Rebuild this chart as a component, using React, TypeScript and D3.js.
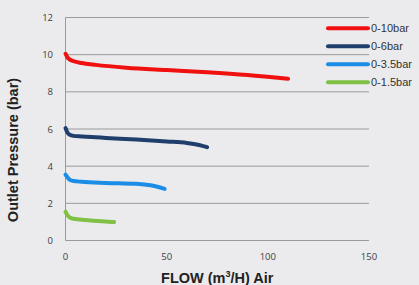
import React, { useEffect, useRef } from "react";
import * as d3 from "d3";

// flow (m3/H) vs outlet pressure (bar)
const seriesNames = ["0-10bar", "0-6bar", "0-3.5bar", "0-1.5bar"];
const seriesColors = ["#f01010", "#1f3e6c", "#1a8de6", "#80c044"];

const flow10 = [0, 1, 2, 4, 8, 15, 30, 50, 70, 90, 110];
const press10 = [10.05, 9.85, 9.75, 9.65, 9.55, 9.45, 9.3, 9.17, 9.05, 8.9, 8.7];

const flow6 = [0, 1, 2, 4, 8, 20, 35, 50, 60, 66, 70];
const press6 = [6.05, 5.8, 5.7, 5.63, 5.6, 5.52, 5.43, 5.33, 5.25, 5.14, 5.02];

const flow35 = [0, 1, 2, 4, 8, 20, 35, 42, 49];
const press35 = [3.55, 3.4, 3.28, 3.2, 3.16, 3.1, 3.05, 2.97, 2.78];

const flow15 = [0, 1, 2, 4, 10, 18, 24];
const press15 = [1.55, 1.35, 1.25, 1.17, 1.1, 1.03, 0.99];

const xTicks = [0, 50, 100, 150];
const yTicks = [0, 2, 4, 6, 8, 10, 12];

const W = 419;
const H = 285;

const App = () => {
  const ref = useRef<SVGSVGElement>(null);

  useEffect(() => {
    const svg = d3.select(ref.current);
    svg.selectAll("*").remove();

    const x = d3.scaleLinear().domain([0, 150]).range([65.5, 369]);
    const y = d3.scaleLinear().domain([0, 12]).range([240.5, 17.5]);

    svg.append("rect").attr("width", W).attr("height", H).attr("fill", "#ebebed");

    // grid
    svg
      .selectAll("line.grid")
      .data(yTicks)
      .enter()
      .append("line")
      .attr("x1", x(0))
      .attr("x2", x(150))
      .attr("y1", (d) => y(d))
      .attr("y2", (d) => y(d))
      .attr("stroke", "#9a9a9a")
      .attr("stroke-width", 1);

    svg
      .append("line")
      .attr("x1", x(0))
      .attr("x2", x(0))
      .attr("y1", y(0))
      .attr("y2", y(12))
      .attr("stroke", "#9a9a9a")
      .attr("stroke-width", 1);

    // tick labels
    svg
      .selectAll("text.ytick")
      .data(yTicks)
      .enter()
      .append("text")
      .attr("x", 53)
      .attr("y", (d) => y(d) + 3.5)
      .attr("text-anchor", "end")
      .attr("font-family", "Open Sans, sans-serif")
      .attr("font-size", 9.5)
      .attr("fill", "#404040")
      .text((d) => d);

    svg
      .selectAll("text.xtick")
      .data(xTicks)
      .enter()
      .append("text")
      .attr("x", (d) => x(d))
      .attr("y", 260)
      .attr("text-anchor", "middle")
      .attr("font-family", "Open Sans, sans-serif")
      .attr("font-size", 9.5)
      .attr("fill", "#404040")
      .text((d) => d);

    // axis titles
    svg
      .append("text")
      .attr("transform", `translate(18, ${(y(0) + y(12)) / 2 + 21}) rotate(-90)`)
      .attr("text-anchor", "middle")
      .attr("font-family", "Liberation Sans, Arial, sans-serif")
      .attr("font-weight", "bold")
      .attr("font-size", 14.5)
      .attr("fill", "#222")
      .text("Outlet Pressure (bar)");

    const xt = svg
      .append("text")
      .attr("x", (x(0) + x(150)) / 2)
      .attr("y", 282.5)
      .attr("text-anchor", "middle")
      .attr("font-family", "Liberation Sans, Arial, sans-serif")
      .attr("font-weight", "bold")
      .attr("font-size", 14.5)
      .attr("fill", "#222");
    xt.append("tspan").text("FLOW (m");
    xt.append("tspan").attr("font-size", 9).attr("dy", -6).text("3");
    xt.append("tspan").attr("dy", 6).text("/H) Air");

    // curves
    const data = [
      d3.zip(flow10, press10),
      d3.zip(flow6, press6),
      d3.zip(flow35, press35),
      d3.zip(flow15, press15),
    ];
    const line = d3
      .line<number[]>()
      .x((d) => x(d[0]))
      .y((d) => y(d[1]))
      .curve(d3.curveMonotoneX);

    svg
      .selectAll("path.series")
      .data(data)
      .enter()
      .append("path")
      .attr("d", (d) => line(d))
      .attr("fill", "none")
      .attr("stroke", (d, i) => seriesColors[i])
      .attr("stroke-width", 4)
      .attr("stroke-linecap", "round")
      .attr("stroke-linejoin", "round");

    // legend
    const leg = svg
      .selectAll("g.leg")
      .data(seriesNames)
      .enter()
      .append("g")
      .attr("transform", (d, i) => `translate(0, ${28.3 + i * 18})`);
    leg
      .append("line")
      .attr("x1", 328)
      .attr("x2", 368)
      .attr("stroke", (d, i) => seriesColors[i])
      .attr("stroke-width", 4)
      .attr("stroke-linecap", "round");
    leg
      .append("text")
      .attr("x", 371)
      .attr("y", 4)
      .attr("font-family", "Liberation Sans, Arial, sans-serif")
      .attr("font-size", 11)
      .attr("fill", "#333")
      .text((d) => d);
  }, []);

  return (
    <div style={{ position: "fixed", left: 0, top: 0, width: W, height: H }}>
      <svg ref={ref} width={W} height={H}></svg>
    </div>
  );
};

export default App;
